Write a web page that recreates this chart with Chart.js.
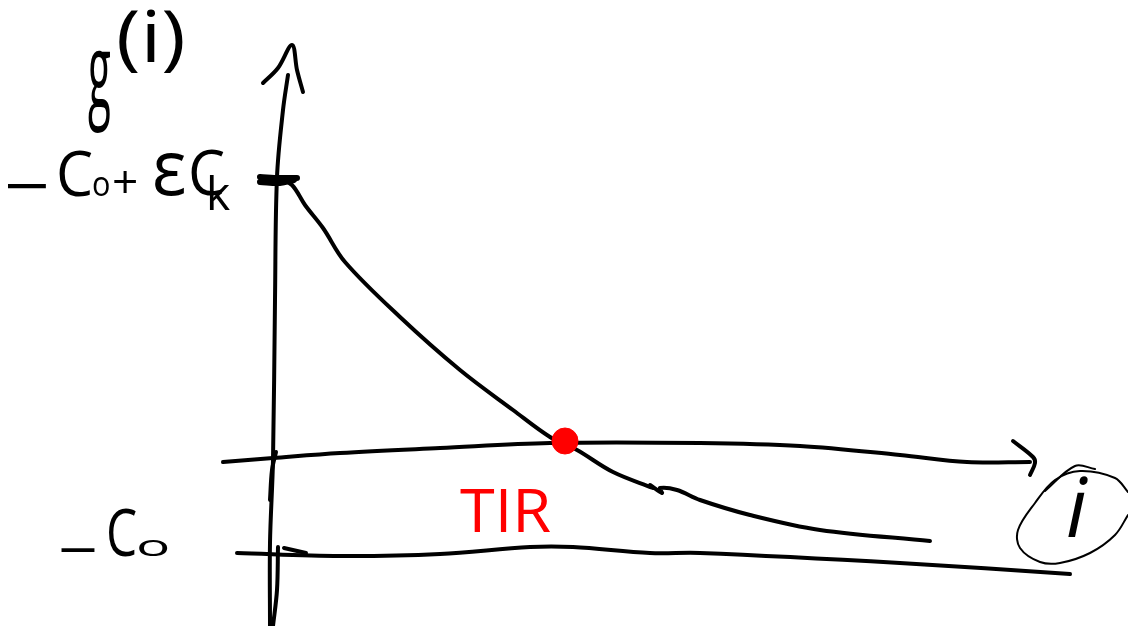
<!DOCTYPE html>
<html>
<head>
<meta charset="utf-8">
<title>g(i) sketch</title>
<script src="https://cdn.jsdelivr.net/npm/chart.js@4/dist/chart.umd.min.js"></script>
<style>
  html, body { margin: 0; padding: 0; background: #fff; overflow: hidden; }
  canvas { display: block; }
</style>
</head>
<body>
<canvas id="sketch" width="1128" height="626"></canvas>
<script>
// every stroke, as [x, y] in the picture's own units
const verticalAxis = [[270,626],[270,543],[273,460],[275,300],[277,177],[283,110],[288,75]];
const verticalArrow = [[263,83],[278,68],[292,45],[297,70],[303,92]];
const verticalRetrace = [[270,500],[272,470],[276,452]];
const verticalLower = [[278,547],[277,590],[273,626]];
const topTick = [[260,177],[280,178],[297,178]];
const topTick2 = [[260,182],[280,183],[294,180]];
const curveUpper = [[279,178],[292,185],[305,205],[323,228],[345,262],[400,317],[460,370],[513,410],[550,437],[577,450],[613,472],[653,488]];
const curveLower = [[650,485],[662,493],[660,488],[677,490],[700,500],[750,515],[820,530],[930,541]];
const horizontalAxis = [[223,462],[273,458],[340,453],[440,448],[550,443],[700,443],[800,446],[900,455],[967,462],[1030,462]];
const horizontalArrow = [[1013,441],[1033,457],[1035,463],[1030,475]];
const lowerLine = [[237,553],[340,556],[440,554],[530,547],[573,547],[650,553],[700,553],[900,563],[1070,574]];
const lowerTick = [[284,548],[306,553]];
const circleRing = [[1128,492],[1115,478],[1080,471],[1055,480],[1035,503],[1018,530],[1020,548],[1040,562],[1060,563],[1090,553],[1115,535],[1128,515]];
const circleExtra = [[1045,491],[1075,466],[1095,469]];
const rootPoint = [[565,441]];

const blackStrokes = [verticalAxis, verticalArrow, verticalRetrace, verticalLower, curveUpper, curveLower,
  horizontalAxis, horizontalArrow, lowerLine, lowerTick];
const heavyStrokes = [topTick, topTick2];
const thinStrokes = [circleRing, circleExtra];

// text, anchor point, font
const labelTexts = ['g', '(i)', '−', 'C', 'o', '+', 'ε', 'C', 'k', '−', 'C', 'o', 'TIR', 'i'];
const labelX = [88, 116, 4, 56, 92, 112, 152, 188, 206, 58, 106, 136, 460, 1066];
const labelY = [108, 62, 208, 196, 196, 198, 195, 195, 210, 570, 556, 556, 532, 537];
const labelSize = [105, 72, 62, 62, 34, 46, 76, 62, 46, 56, 66, 30, 60, 82];
const labelStretch = [0.4, 1.15, 1.3, 0.95, 0.9, 1, 0.95, 0.95, 1, 1.25, 0.75, 1.9, 1.05, 1];
const labelColor = ['#000', '#000', '#000', '#000', '#000', '#000', '#000', '#000', '#000', '#000', '#000', '#000', '#f00', '#000'];

function stroke(points, width, color) {
  return {
    data: points.map(p => ({ x: p[0], y: p[1] })),
    borderColor: color,
    borderWidth: width,
    borderCapStyle: 'round',
    borderJoinStyle: 'round',
    pointRadius: 0,
    showLine: true,
    tension: 0.35,
    fill: false
  };
}

const labelPlugin = {
  id: 'handLabels',
  afterDatasetsDraw(chart) {
    const c = chart.ctx;
    labelTexts.forEach((t, n) => {
      c.save();
      c.textBaseline = 'alphabetic';
      c.font = (t === 'i' ? 'italic ' : '') + labelSize[n] + 'px "Open Sans", "DejaVu Sans", sans-serif';
      c.fillStyle = labelColor[n];
      c.translate(chart.scales.x.getPixelForValue(labelX[n]), chart.scales.y.getPixelForValue(labelY[n]));
      c.scale(labelStretch[n], 1);
      c.fillText(t, 0, 0);
      c.restore();
    });
  }
};

const datasets = [
  {
    data: rootPoint.map(p => ({ x: p[0], y: p[1] })),
    backgroundColor: '#f00',
    borderColor: '#f00',
    pointRadius: 13,
    showLine: false
  }
];
blackStrokes.forEach(s => datasets.push(stroke(s, 4, '#000')));
heavyStrokes.forEach(s => datasets.push(stroke(s, 6, '#000')));
thinStrokes.forEach(s => datasets.push(stroke(s, 2, '#000')));

new Chart(document.getElementById('sketch'), {
  type: 'scatter',
  data: { datasets: datasets },
  plugins: [labelPlugin],
  options: {
    responsive: false,
    animation: false,
    layout: { padding: 0, autoPadding: false },
    clip: false,
    plugins: { legend: { display: false }, tooltip: { enabled: false } },
    scales: {
      x: { type: 'linear', min: 0, max: 1128, display: false },
      y: { type: 'linear', min: 0, max: 626, reverse: true, display: false }
    }
  }
});
</script>
</body>
</html>
